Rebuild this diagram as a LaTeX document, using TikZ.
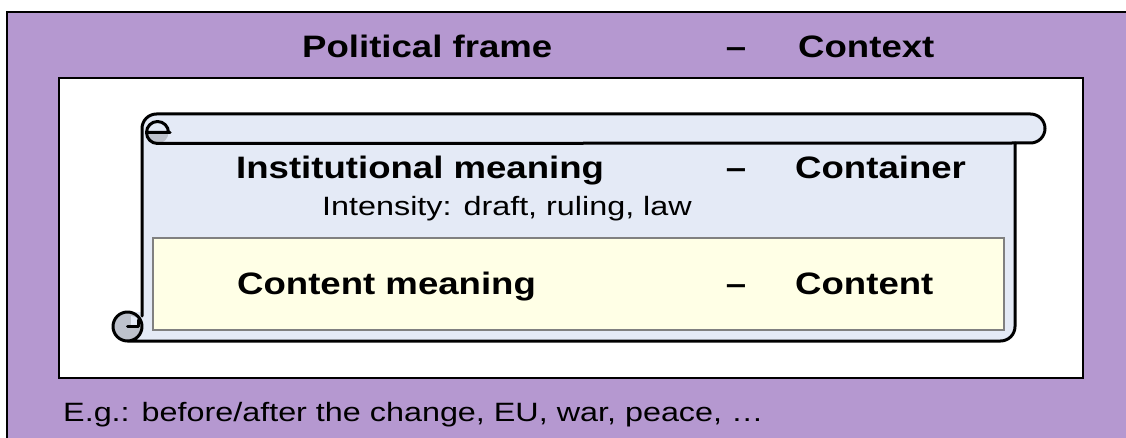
\documentclass[tikz,border=0pt]{standalone}
\usepackage{fontspec}
\setmainfont{Liberation Sans}
\newfontfamily\hfont[FakeStretch=1.18]{Liberation Sans}
\newfontfamily\rfont[FakeStretch=1.22]{Liberation Sans}
\definecolor{purp}{RGB}{181,152,208}
\definecolor{scrollblue}{RGB}{228,234,246}
\definecolor{contyellow}{RGB}{255,255,230}
\definecolor{curlgray}{RGB}{190,194,204}
\definecolor{boxgray}{RGB}{128,128,128}
\begin{document}
\begin{tikzpicture}[x=1pt,y=-1pt,
  heading/.style={font=\hfont\bfseries\fontsize{31}{33}\selectfont, inner sep=0pt, anchor=base west},
  headdash/.style={font=\hfont\bfseries\fontsize{31}{33}\selectfont, inner sep=0pt, anchor=base},
  plaintext/.style={font=\rfont\fontsize{26.5}{28}\selectfont, inner sep=0pt, anchor=base west},
  frameline/.style={line width=2pt, draw=black},
  scrollline/.style={line width=3pt, draw=black, line join=round, line cap=round}]
\useasboundingbox (0,0) rectangle (1126,438);
% outer purple frame (cut by picture edge)
\begin{scope}
  \clip (0,0) rectangle (1126,438);
  \draw[frameline, fill=purp] (7,12) rectangle (1140,450);
\end{scope}
% inner white rectangle
\draw[frameline, fill=white] (59,78) rectangle (1083,378);
% scroll body
\path[fill=scrollblue] (142,128.5) arc[start angle=180, end angle=270, radius=14.5]
  -- (1030.5,114) arc[start angle=270, end angle=450, radius=14.5]
  -- (1015,143) -- (1015,326.5) arc[start angle=0, end angle=90, radius=14.5]
  -- (127.5,341) arc[start angle=90, end angle=270, radius=14.5]
  -- (142,312) -- cycle;
% content box
\draw[line width=1.5pt, draw=boxgray, fill=contyellow] (153,238) rectangle (1004,330);
% bottom-left curl
\fill[curlgray] (127.5,326.5) circle[radius=14.5];
\fill[scrollblue] (131,326.5) -- (131,316) arc[start angle=270, end angle=360, radius=10.5] -- cycle;
% top-left curl lower half
\fill[curlgray] (146.5,132.5) arc[start angle=180, end angle=0, radius=11] -- cycle;
% scroll outline
\draw[scrollline] (142,316) -- (142,128.5) arc[start angle=180, end angle=270, radius=14.5]
  -- (1030.5,114) arc[start angle=270, end angle=450, radius=14.5]
  -- (1015,143) -- (1015,326.5) arc[start angle=0, end angle=90, radius=14.5]
  -- (127.5,341) arc[start angle=90, end angle=450, radius=14.5];
\draw[scrollline] (1015,143) -- (157.5,143.5);
\draw[scrollline] (170,132.5) -- (146.5,132.5) arc[start angle=180, end angle=360, radius=11];
\draw[scrollline] (146.5,132.5) arc[start angle=180, end angle=90, radius=11];
\draw[scrollline] (127.5,326.5) -- (138,326.5) -- (138,320);
% texts
\node[heading] (pf) at (302,58) {Political frame};
\node[headdash] (d1) at (736,58) {–};
\node[heading] (ctx) at (798,58) {Context};
\node[heading] (im) at (236,179) {Institutional meaning};
\node[headdash] (d2) at (736,179) {–};
\node[heading] (cont) at (795,179) {Container};
\node[plaintext] (int) at (322,216) {Intensity: draft, ruling, law};
\node[heading] (cm) at (237,294) {Content meaning};
\node[headdash] (d3) at (736,294) {–};
\node[heading] (cnt) at (795,294) {Content};
\node[plaintext] (eg) at (63,421) {E.g.: before/after the change, EU, war, peace, …};
\end{tikzpicture}
\end{document}
